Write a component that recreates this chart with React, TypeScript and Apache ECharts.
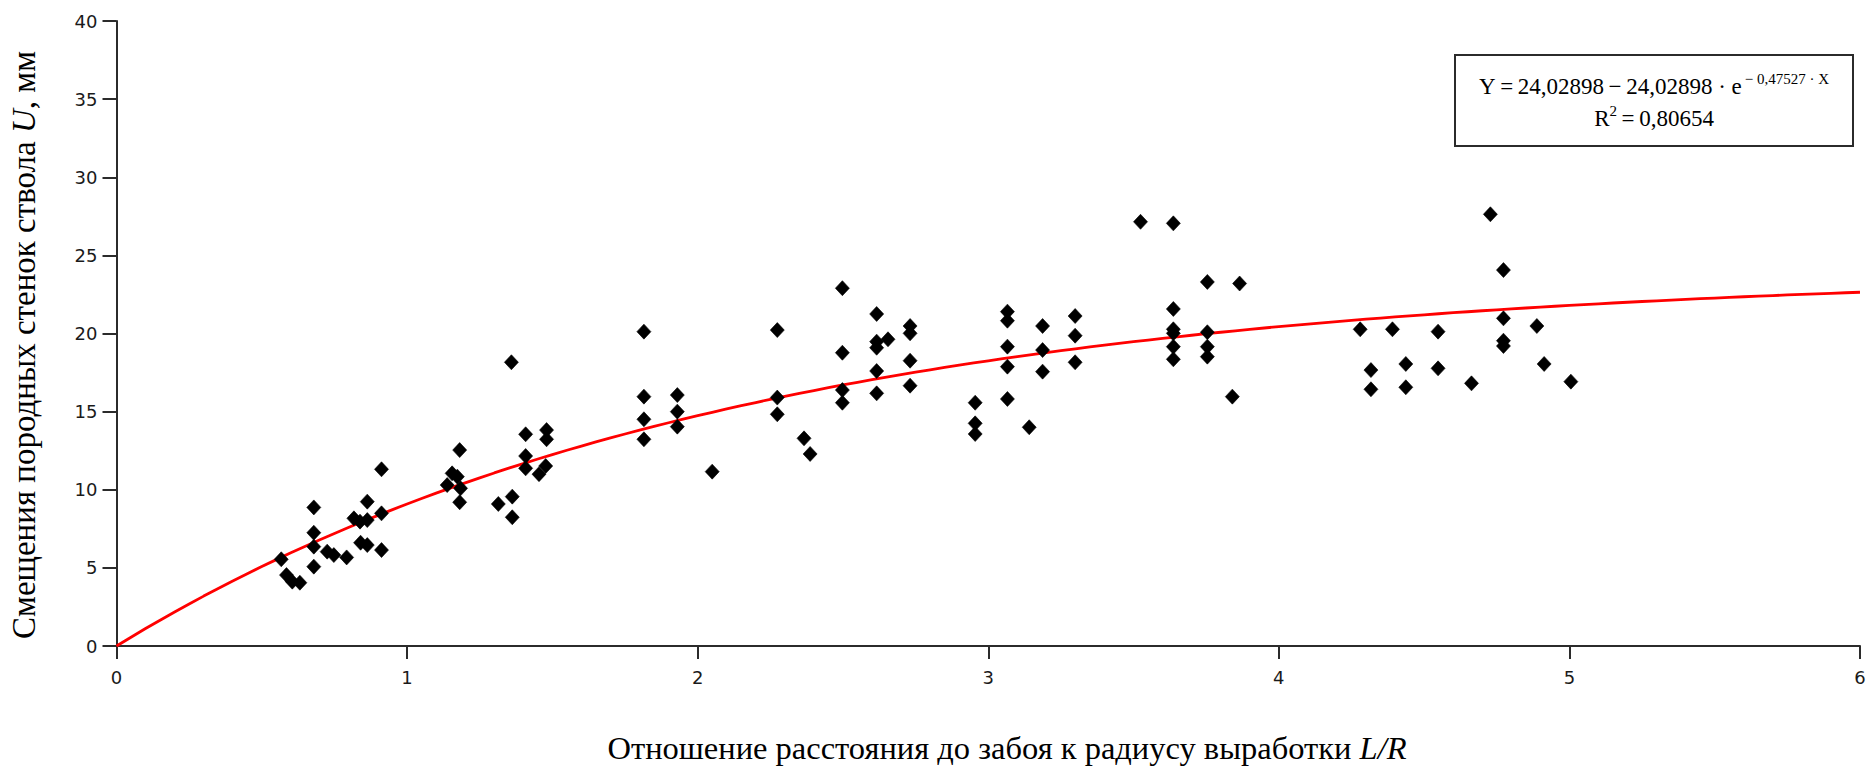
import React, { useEffect, useRef } from "react";
import * as echarts from "echarts";

// Measured wall displacement U (mm) versus face-distance ratio L/R
const ratioLR = [
  0.567, 0.585, 0.605, 0.631, 0.679, 0.679, 0.679, 0.679, 0.725, 0.748,
  0.792, 0.817, 0.838, 0.840, 0.863, 0.863, 0.863, 0.912, 0.912, 0.912,
  1.138, 1.155, 1.173, 1.181, 1.184, 1.181, 1.314, 1.362, 1.362, 1.359,
  1.408, 1.408, 1.408, 1.454, 1.477, 1.480, 1.480,
  1.815, 1.815, 1.815, 1.815, 1.930, 1.930, 1.930, 2.050,
  2.274, 2.274, 2.274, 2.366, 2.387,
  2.498, 2.498, 2.498, 2.498, 2.616, 2.616, 2.616, 2.655, 2.616, 2.616,
  2.731, 2.731, 2.731, 2.731,
  2.955, 2.955, 2.955, 3.066, 3.066, 3.066, 3.066, 3.066, 3.141,
  3.187, 3.187, 3.187, 3.299, 3.299, 3.299,
  3.524, 3.637, 3.637, 3.637, 3.637, 3.637, 3.637,
  3.754, 3.754, 3.754, 3.754, 3.840, 3.865,
  4.280, 4.317, 4.317, 4.391, 4.437, 4.437, 4.548, 4.548, 4.663,
  4.728, 4.773, 4.773, 4.773, 4.773, 4.888, 4.913, 5.005,
];

const displacementU = [
  5.55, 4.54, 4.12, 4.05, 8.87, 7.25, 6.36, 5.08, 6.04, 5.82,
  5.67, 8.17, 7.96, 6.61, 9.24, 8.06, 6.46, 11.31, 8.49, 6.14,
  10.30, 11.05, 10.84, 12.54, 10.09, 9.20, 9.09, 9.56, 8.24, 18.16,
  13.55, 12.16, 11.37, 11.00, 11.52, 13.82, 13.23,
  20.12, 15.96, 14.51, 13.23, 16.06, 15.00, 14.04, 11.16,
  20.22, 15.90, 14.83, 13.29, 12.29,
  22.90, 18.77, 16.38, 15.57, 21.25, 19.48, 19.09, 19.63, 17.60, 16.17,
  20.48, 20.01, 18.26, 16.66,
  15.57, 14.25, 13.57, 21.40, 20.82, 19.16, 17.88, 15.81, 14.00,
  20.48, 18.94, 17.56, 21.12, 19.86, 18.16,
  27.15, 27.05, 21.57, 20.27, 20.01, 19.16, 18.35,
  23.30, 20.08, 19.16, 18.52, 15.96, 23.20,
  20.27, 17.66, 16.43, 20.27, 18.05, 16.56, 20.12, 17.77, 16.81,
  27.63, 24.06, 20.97, 19.54, 19.20, 20.48, 18.05, 16.92,
];

// Regression Y = A - A * exp(-K * X)
const FIT_A = 24.02898;
const FIT_K = 0.47527;
const FIT_R2 = "0,80654";
const fitXs = Array.from({ length: 121 }, (_, i) => i * 0.05);

const X_TITLE = "Отношение расстояния до забоя к радиусу выработки ";
const X_TITLE_ITALIC = "L/R";
const Y_TITLE = "Смещения породных стенок ствола ";
const Y_TITLE_ITALIC = "U";
const Y_TITLE_TAIL = ", мм";

const SERIF = "'Liberation Serif', 'Times New Roman', serif";
const TICK_FONT = "'DejaVu Sans', sans-serif";

export default function App() {
  const ref = useRef<HTMLDivElement>(null);

  useEffect(() => {
    if (!ref.current) return;
    const chart = echarts.init(ref.current, undefined, { renderer: "svg" });

    const points = ratioLR.map((x, i) => [x, displacementU[i]]);
    const fit = fitXs.map((x) => [x, FIT_A - FIT_A * Math.exp(-FIT_K * x)]);

    const axisColor = "#2b2b2b";

    chart.setOption({
      animation: false,
      backgroundColor: "#ffffff",
      grid: { left: 116.5, right: 11, top: 21, bottom: 129, containLabel: false },
      xAxis: {
        type: "value",
        min: 0,
        max: 6,
        interval: 1,
        axisLine: { show: true, lineStyle: { color: axisColor, width: 2 } },
        axisTick: { show: true, inside: false, length: 13, lineStyle: { color: axisColor, width: 2 } },
        axisLabel: { margin: 22, fontSize: 18, color: "#1a1a1a", fontFamily: TICK_FONT },
        splitLine: { show: false },
      },
      yAxis: {
        type: "value",
        min: 0,
        max: 40,
        interval: 5,
        axisLine: { show: true, lineStyle: { color: axisColor, width: 2 } },
        axisTick: { show: true, inside: false, length: 14, lineStyle: { color: axisColor, width: 2 } },
        axisLabel: { margin: 19, fontSize: 18, color: "#1a1a1a", fontFamily: TICK_FONT },
        splitLine: { show: false },
      },
      series: [
        {
          type: "line",
          data: fit,
          showSymbol: false,
          smooth: false,
          lineStyle: { color: "#ff0000", width: 2.8 },
          z: 2,
        },
        {
          type: "scatter",
          data: points,
          symbol: "diamond",
          symbolSize: [14, 15],
          itemStyle: { color: "#000000", borderColor: "#000000", borderWidth: 0.6, opacity: 1 },
          z: 3,
        },
      ],
      graphic: [
        {
          type: "text",
          x: 24,
          y: 345,
          rotation: Math.PI / 2,
          style: {
            text: `{n|${Y_TITLE}}{i|${Y_TITLE_ITALIC}}{n|${Y_TITLE_TAIL}}`,
            align: "center",
            verticalAlign: "middle",
            fill: "#000",
            rich: {
              n: { fontFamily: SERIF, fontSize: 33, fill: "#000" },
              i: { fontFamily: SERIF, fontSize: 33, fontStyle: "italic", fill: "#000" },
            },
          },
        },
        {
          type: "text",
          x: 1007,
          y: 748,
          style: {
            text: `{n|${X_TITLE}}{i|${X_TITLE_ITALIC}}`,
            align: "center",
            verticalAlign: "middle",
            fill: "#000",
            rich: {
              n: { fontFamily: SERIF, fontSize: 32.5, fill: "#000" },
              i: { fontFamily: SERIF, fontSize: 32.5, fontStyle: "italic", fill: "#000" },
            },
          },
        },
        {
          type: "rect",
          shape: { x: 1455, y: 55, width: 398, height: 91 },
          style: { fill: "#ffffff", stroke: "#2b2b2b", lineWidth: 2 },
          z: 10,
        },
        {
          type: "text",
          x: 1654,
          y: 86,
          z: 11,
          style: {
            text: `{m|Y\u2009=\u200924,02898\u2009\u2212\u200924,02898 · e}{s|\u2009\u2212 0,47527 · X}`,
            align: "center",
            verticalAlign: "middle",
            fill: "#000",
            rich: {
              m: { fontFamily: SERIF, fontSize: 23, lineHeight: 30, fill: "#000" },
              s: { fontFamily: SERIF, fontSize: 15, lineHeight: 11, verticalAlign: "top", fill: "#000" },
            },
          },
        },
        {
          type: "text",
          x: 1654,
          y: 118,
          z: 11,
          style: {
            text: `{m|R}{s|2}{m|\u2009=\u2009${FIT_R2}}`,
            align: "center",
            verticalAlign: "middle",
            fill: "#000",
            rich: {
              m: { fontFamily: SERIF, fontSize: 23, lineHeight: 30, fill: "#000" },
              s: { fontFamily: SERIF, fontSize: 15, lineHeight: 16, verticalAlign: "top", fill: "#000" },
            },
          },
        },
      ],
    });

    return () => chart.dispose();
  }, []);

  return (
    <div
      ref={ref}
      style={{ position: "absolute", left: 0, top: 0, width: 1871, height: 775 }}
    />
  );
}
